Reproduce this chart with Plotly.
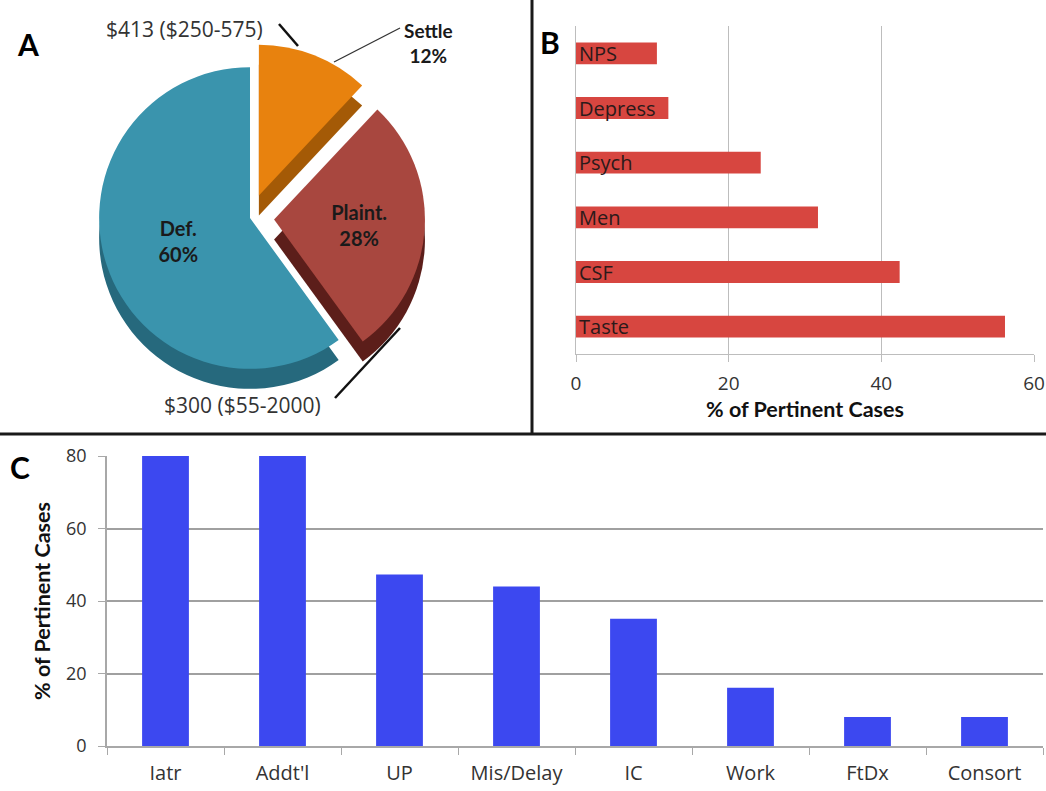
import plotly.graph_objects as go

# ---------------- data ----------------
pie_labels = ['Settle', 'Plaint.', 'Def.']
pie_values = [12, 28, 60]
pie_colors_top = ['#e8820e', '#a8473f', '#3a94ad']
pie_colors_side = ['#a45a06', '#5c1e1a', '#26697d']
pie_pull = [0.16, 0.16, 0.0]
pie_notes = ['$413 ($250-575)', '$300 ($55-2000)']

b_categories = ['NPS', 'Depress', 'Psych', 'Men', 'CSF', 'Taste']
b_values = [10.6, 12.1, 24.2, 31.7, 42.4, 56.2]

c_categories = ['Iatr', "Addt'l", 'UP', 'Mis/Delay', 'IC', 'Work', 'FtDx', 'Consort']
c_values = [80, 80, 47.3, 44.0, 35.1, 16.1, 8.0, 8.0]

W, H = 1046, 791
FONT = '"Open Sans", Lato, sans-serif'
BOLD = 'Lato, "Open Sans", sans-serif'


def px(x):
    return x / W


def py(y):
    return 1 - y / H


fig = go.Figure()

# ---------------- Panel A: pie ----------------
cx, cy, half, depth = 250, 218, 175, 20
pie_tmpl = [''] + ['<b>%{label}<br>%{percent}</b>'] * (len(pie_labels) - 1)
fig.add_trace(go.Pie(
    labels=pie_labels, values=pie_values, sort=False, direction='clockwise', rotation=0,
    pull=pie_pull, marker=dict(colors=pie_colors_side, line=dict(width=0)),
    textinfo='none', hoverinfo='skip', showlegend=False, automargin=False,
    domain=dict(x=[px(cx - half), px(cx + half)], y=[py(cy + half + depth), py(cy - half + depth)]),
))
fig.add_trace(go.Pie(
    labels=pie_labels, values=pie_values, sort=False, direction='clockwise', rotation=0,
    pull=pie_pull, marker=dict(colors=pie_colors_top, line=dict(width=0)),
    texttemplate=pie_tmpl, textposition='inside',
    insidetextorientation='horizontal',
    textfont=dict(family=BOLD, size=20, color='#1a1a1a'),
    showlegend=False, automargin=False,
    domain=dict(x=[px(cx - half), px(cx + half)], y=[py(cy + half), py(cy - half)]),
))

# ---------------- Panel B: horizontal bars ----------------
fig.add_trace(go.Bar(
    x=b_values, y=b_categories, orientation='h', width=0.4,
    marker=dict(color='rgb(215,70,64)', line=dict(width=0)),
    text=b_categories, textposition='inside', insidetextanchor='start',
    constraintext='none', textfont=dict(family=FONT, size=20, color='#2b1a1a'),
    xaxis='x', yaxis='y', showlegend=False,
))

# ---------------- Panel C: vertical bars ----------------
fig.add_trace(go.Bar(
    x=c_categories, y=c_values, width=0.4,
    marker=dict(color='rgb(60,72,240)', line=dict(width=0)),
    xaxis='x2', yaxis='y2', showlegend=False,
))

grid = '#bdbdbd'
fig.update_layout(
    width=W, height=H, margin=dict(l=0, r=0, t=0, b=0, autoexpand=False),
    paper_bgcolor='white', plot_bgcolor='white',
    font=dict(family=FONT, color='#333'),
    xaxis=dict(domain=[px(576), px(1034)], anchor='y', range=[0, 60], dtick=20, automargin=False,
               showgrid=True, gridcolor=grid, gridwidth=1, zeroline=False,
               showline=True, linecolor=grid, linewidth=1,
               ticks='outside', ticklen=7, tickcolor=grid,
               tickfont=dict(size=19, color='#333'), ticklabelstandoff=5,
               title=dict(text='<b>% of Pertinent Cases</b>', font=dict(family=BOLD, size=21.5, color='#111'),
                          standoff=6)),
    yaxis=dict(domain=[py(354), py(26)], anchor='x', type='category', automargin=False,
               categoryorder='array', categoryarray=b_categories, range=[5.5, -0.5],
               showticklabels=False, showgrid=False, zeroline=False,
               showline=True, linecolor=grid, linewidth=1, ticks=''),
    xaxis2=dict(domain=[px(107), px(1043)], anchor='y2', type='category', automargin=False,
                showgrid=False, zeroline=False, showline=True, linecolor='#a8a8a8', linewidth=1.5,
                ticks='outside', tickson='boundaries', ticklen=7, tickcolor='#a8a8a8',
                tickfont=dict(size=20, color='#333'), ticklabelstandoff=8),
    yaxis2=dict(domain=[py(746), py(456)], anchor='x2', range=[0, 80], dtick=20, automargin=False,
                showgrid=True, gridcolor='#a0a0a0', gridwidth=1.5, zeroline=False,
                showline=True, linecolor='#a8a8a8', linewidth=1.5,
                ticks='outside', ticklen=7, tickcolor='#a8a8a8',
                tickfont=dict(size=18, color='#333'), ticklabelstandoff=8,
                title=dict(text='<b>% of Pertinent Cases</b>', font=dict(family=BOLD, size=21.5, color='#111'),
                           standoff=10)),
)

# panel separators
fig.add_shape(type='line', xref='paper', yref='paper', x0=px(532), x1=px(532), y0=py(0), y1=py(433),
              line=dict(color='#1a1a1a', width=3))
fig.add_shape(type='line', xref='paper', yref='paper', x0=0, x1=1, y0=py(434), y1=py(434),
              line=dict(color='#1a1a1a', width=3))

# leader lines for panel A
fig.add_shape(type='line', xref='paper', yref='paper', x0=px(279), y0=py(24), x1=px(298), y1=py(46),
              line=dict(color='#111', width=2.5))
fig.add_shape(type='line', xref='paper', yref='paper', x0=px(400), y0=py(28), x1=px(334), y1=py(62),
              line=dict(color='#333', width=1.3))
fig.add_shape(type='line', xref='paper', yref='paper', x0=px(335), y0=py(398), x1=px(400), y1=py(328),
              line=dict(color='#111', width=2.5))

settle_text = '<b>%s<br>%d%%</b>' % (pie_labels[0], pie_values[0])
annots = [
    dict(text='<b>A</b>', x=px(28), y=py(44), size=30, family=BOLD),
    dict(text='<b>B</b>', x=px(550), y=py(42), size=30, family=BOLD),
    dict(text='<b>C</b>', x=px(20), y=py(467), size=30, family=BOLD),
    dict(text=pie_notes[0], x=px(184), y=py(29), size=21, color='#333'),
    dict(text=pie_notes[1], x=px(242), y=py(405), size=21, color='#333'),
    dict(text=settle_text, x=px(428), y=py(43), size=19, color='#1a1a1a', family=BOLD),
]
for a in annots:
    fig.add_annotation(text=a['text'], x=a['x'], y=a['y'], xref='paper', yref='paper',
                       showarrow=False, xanchor='center', yanchor='middle',
                       font=dict(family=a.get('family', FONT), size=a['size'], color=a.get('color', '#000')))

fig.write_html('out.html')
